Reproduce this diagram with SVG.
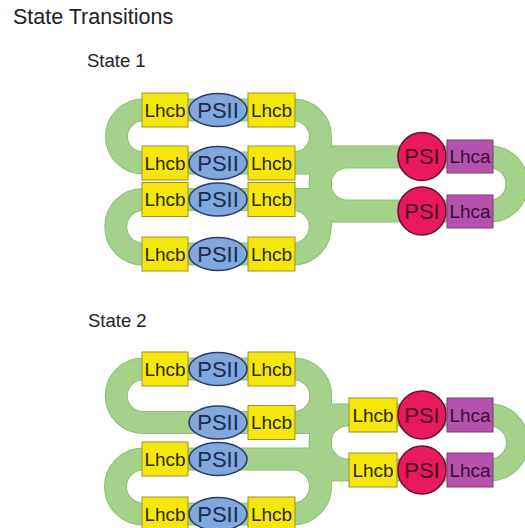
<svg xmlns="http://www.w3.org/2000/svg" width="525" height="528" viewBox="0 0 525 528">
<style>
.mo{fill:none;stroke:#8bbf70;stroke-width:23;stroke-linejoin:round}
.mi{fill:none;stroke:#a4d28b;stroke-width:21;stroke-linejoin:round}
.lhcb{fill:#f6e60c;stroke:#9d912e;stroke-width:1}
.lhca{fill:#b452ae;stroke:#7b3a77;stroke-width:1}
.psii{fill:#80a8dc;stroke:#2c3d6c;stroke-width:1.6}
.psi{fill:#e8195d;stroke:#6a1030;stroke-width:1.6}
.t{font-family:"Liberation Sans",Arial,sans-serif;text-anchor:middle}
.tb{font-size:19px;fill:#2a2810}
.ta{font-size:19px;fill:#3a0c3a}
.t2{font-size:22px;fill:#1c2a50}
.t1{font-size:22px;fill:#4a0a1e}
.h{font-family:"Liberation Sans",Arial,sans-serif;fill:#222}
</style>
<defs>
<path id="m1" d="M143 110H294A26.5 26.5 0 0 1 294 163H143A26.5 26.5 0 0 1 143 110Z M143 199.5H293A27.25 27.25 0 0 1 293 254H143A27.25 27.25 0 0 1 143 199.5Z M320.5 136V227 M280 163H320.5 M280 199.5H320.5 M320 157H490A27 27 0 0 1 490 211H320 M347 157A27 27 0 0 0 347 211"/>
<path id="m2" d="M143 369H294A26.75 26.75 0 0 1 294 422.5H143A26.75 26.75 0 0 1 143 369Z M143 459H293A27.5 27.5 0 0 1 293 514H143A27.5 27.5 0 0 1 143 459Z M320.5 395V487 M280 422.5H320.5 M280 459H320.5 M320 415H490A27.5 27.5 0 0 1 490 470H320 M347.5 415A27.5 27.5 0 0 0 347.5 470"/>
</defs>
<text class="h" x="13" y="24" font-size="21.5">State Transitions</text>
<text class="h" x="87" y="67" font-size="18.5">State 1</text>
<text class="h" x="88" y="327" font-size="18.5">State 2</text>
<g id="connectors">
<use href="#m1" class="mo"/><use href="#m2" class="mo"/>
<use href="#m1" class="mi"/><use href="#m2" class="mi"/>
</g>
<!-- State 1 -->
<g id="s1-r1-lhcb-l"><rect class="lhcb" x="142" y="93" width="46" height="34"/><text class="t tb" x="165" y="116.8">Lhcb</text></g>
<g id="s1-r1-lhcb-r"><rect class="lhcb" x="248" y="93" width="47" height="34"/><text class="t tb" x="271.5" y="116.8">Lhcb</text></g>
<g id="s1-r1-psii"><ellipse class="psii" cx="218" cy="110" rx="29" ry="16.5"/><text class="t t2" x="218" y="117.9">PSII</text></g>
<g id="s1-r2-lhcb-l"><rect class="lhcb" x="142" y="146" width="46" height="34"/><text class="t tb" x="165" y="169.8">Lhcb</text></g>
<g id="s1-r2-lhcb-r"><rect class="lhcb" x="248" y="146" width="47" height="34"/><text class="t tb" x="271.5" y="169.8">Lhcb</text></g>
<g id="s1-r2-psii"><ellipse class="psii" cx="218" cy="163" rx="29" ry="16.5"/><text class="t t2" x="218" y="170.9">PSII</text></g>
<g id="s1-r3-lhcb-l"><rect class="lhcb" x="142" y="182.5" width="46" height="34"/><text class="t tb" x="165" y="206.3">Lhcb</text></g>
<g id="s1-r3-lhcb-r"><rect class="lhcb" x="248" y="182.5" width="47" height="34"/><text class="t tb" x="271.5" y="206.3">Lhcb</text></g>
<g id="s1-r3-psii"><ellipse class="psii" cx="218" cy="199.5" rx="29" ry="16.5"/><text class="t t2" x="218" y="207.4">PSII</text></g>
<g id="s1-r4-lhcb-l"><rect class="lhcb" x="142" y="237" width="46" height="34"/><text class="t tb" x="165" y="260.8">Lhcb</text></g>
<g id="s1-r4-lhcb-r"><rect class="lhcb" x="248" y="237" width="47" height="34"/><text class="t tb" x="271.5" y="260.8">Lhcb</text></g>
<g id="s1-r4-psii"><ellipse class="psii" cx="218" cy="254" rx="29" ry="16.5"/><text class="t t2" x="218" y="261.9">PSII</text></g>
<g id="s1-psi1"><circle class="psi" cx="422" cy="156.5" r="24"/><text class="t t1" x="422" y="164.4">PSI</text></g>
<g id="s1-lhca1"><rect class="lhca" x="447" y="140" width="46" height="33"/><text class="t ta" x="470" y="163.3">Lhca</text></g>
<g id="s1-psi2"><circle class="psi" cx="422" cy="211" r="24"/><text class="t t1" x="422" y="218.9">PSI</text></g>
<g id="s1-lhca2"><rect class="lhca" x="447" y="195" width="46" height="33"/><text class="t ta" x="470" y="218.3">Lhca</text></g>
<!-- State 2 -->
<g id="s2-r1-lhcb-l"><rect class="lhcb" x="142" y="352" width="46" height="34"/><text class="t tb" x="165" y="375.8">Lhcb</text></g>
<g id="s2-r1-lhcb-r"><rect class="lhcb" x="248" y="352" width="47" height="34"/><text class="t tb" x="271.5" y="375.8">Lhcb</text></g>
<g id="s2-r1-psii"><ellipse class="psii" cx="218" cy="369" rx="29" ry="16.5"/><text class="t t2" x="218" y="376.9">PSII</text></g>
<g id="s2-r2-lhcb-r"><rect class="lhcb" x="248" y="405.5" width="47" height="34"/><text class="t tb" x="271.5" y="429.3">Lhcb</text></g>
<g id="s2-r2-psii"><ellipse class="psii" cx="218" cy="422.5" rx="29" ry="16.5"/><text class="t t2" x="218" y="430.4">PSII</text></g>
<g id="s2-r3-lhcb-l"><rect class="lhcb" x="142" y="442" width="46" height="34"/><text class="t tb" x="165" y="465.8">Lhcb</text></g>
<g id="s2-r3-psii"><ellipse class="psii" cx="218" cy="459" rx="29" ry="16.5"/><text class="t t2" x="218" y="466.9">PSII</text></g>
<g id="s2-r4-lhcb-l"><rect class="lhcb" x="142" y="497" width="46" height="34"/><text class="t tb" x="165" y="520.8">Lhcb</text></g>
<g id="s2-r4-lhcb-r"><rect class="lhcb" x="248" y="497" width="47" height="34"/><text class="t tb" x="271.5" y="520.8">Lhcb</text></g>
<g id="s2-r4-psii"><ellipse class="psii" cx="218" cy="514" rx="29" ry="16.5"/><text class="t t2" x="218" y="521.9">PSII</text></g>
<g id="s2-lhcb1"><rect class="lhcb" x="349" y="398" width="48" height="34"/><text class="t tb" x="373" y="421.8">Lhcb</text></g>
<g id="s2-psi1"><circle class="psi" cx="422" cy="415" r="24"/><text class="t t1" x="422" y="422.9">PSI</text></g>
<g id="s2-lhca1"><rect class="lhca" x="447" y="398" width="46" height="34"/><text class="t ta" x="470" y="421.8">Lhca</text></g>
<g id="s2-lhcb2"><rect class="lhcb" x="349" y="453" width="48" height="34"/><text class="t tb" x="373" y="476.8">Lhcb</text></g>
<g id="s2-psi2"><circle class="psi" cx="422" cy="470" r="24"/><text class="t t1" x="422" y="477.9">PSI</text></g>
<g id="s2-lhca2"><rect class="lhca" x="447" y="453" width="46" height="34"/><text class="t ta" x="470" y="476.8">Lhca</text></g>
</svg>
